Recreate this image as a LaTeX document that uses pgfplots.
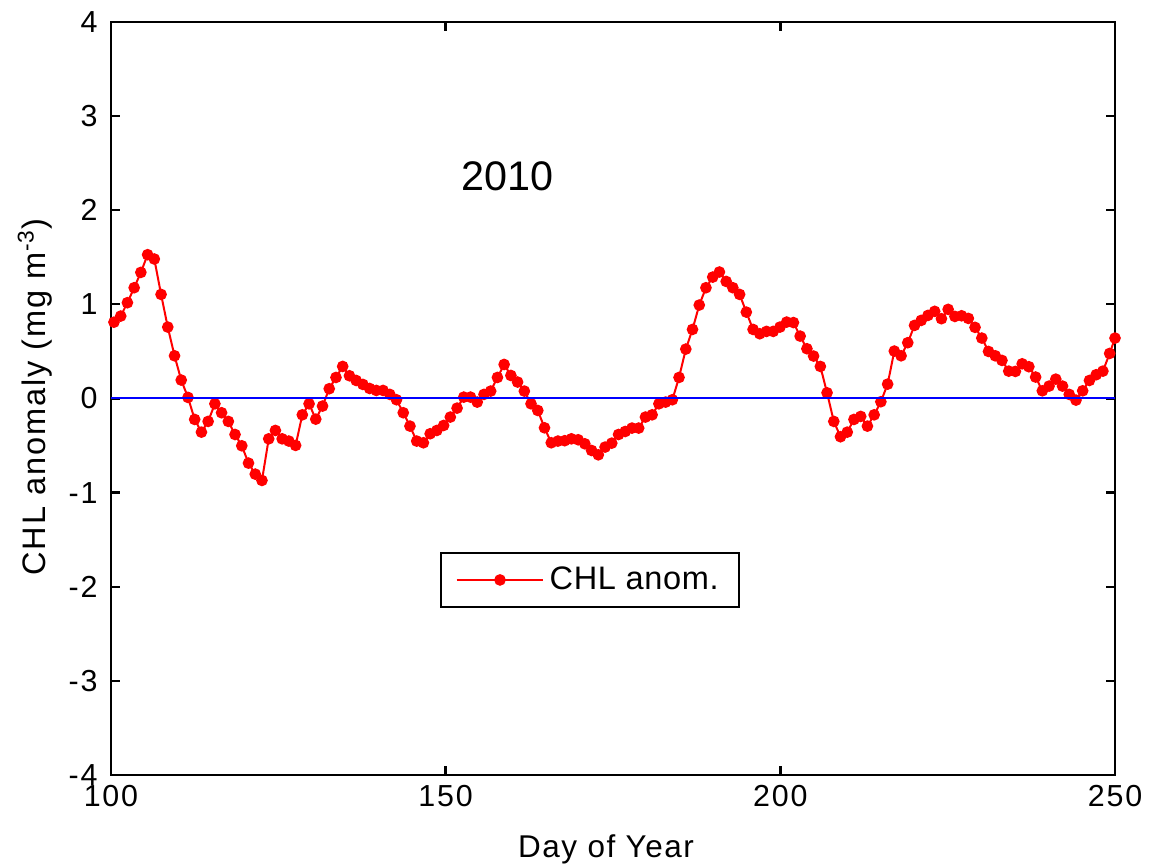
\documentclass[border=0pt]{standalone}
\usepackage{pgfplots}
\pgfplotsset{compat=1.18}
\usepackage{fontspec}
\setmainfont{Liberation Sans}
\newfontfamily\tickfont[LetterSpace=6]{Liberation Sans}
\newfontfamily\labfont[LetterSpace=5]{Liberation Sans}
\newfontfamily\ylabfont[LetterSpace=6]{Liberation Sans}
\newfontfamily\legfont[LetterSpace=2]{Liberation Sans}
\pgfplotstableread{
x y
100.45 0.810
101.46 0.875
102.46 1.017
103.47 1.176
104.47 1.339
105.48 1.527
106.48 1.481
107.49 1.105
108.49 0.758
109.50 0.453
110.50 0.195
111.51 0.011
112.51 -0.223
113.52 -0.358
114.52 -0.244
115.53 -0.057
116.53 -0.152
117.54 -0.244
118.54 -0.383
119.55 -0.503
120.55 -0.687
121.56 -0.804
122.56 -0.871
123.57 -0.429
124.57 -0.340
125.58 -0.429
126.58 -0.453
127.59 -0.499
128.59 -0.174
129.60 -0.057
130.60 -0.220
131.61 -0.081
132.61 0.103
133.62 0.223
134.62 0.340
135.63 0.241
136.63 0.191
137.64 0.149
138.64 0.106
139.65 0.085
140.65 0.085
141.66 0.043
142.66 -0.014
143.67 -0.152
144.67 -0.294
145.68 -0.453
146.68 -0.471
147.69 -0.375
148.69 -0.340
149.70 -0.287
150.70 -0.198
151.71 -0.103
152.71 0.014
153.72 0.014
154.72 -0.039
155.73 0.043
156.73 0.078
157.74 0.223
158.74 0.361
159.75 0.244
160.75 0.174
161.76 0.078
162.76 -0.057
163.77 -0.128
164.77 -0.312
165.78 -0.471
166.78 -0.453
167.79 -0.449
168.79 -0.429
169.80 -0.439
170.80 -0.482
171.81 -0.553
172.81 -0.599
173.82 -0.517
174.82 -0.475
175.83 -0.383
176.83 -0.351
177.84 -0.315
178.84 -0.315
179.85 -0.198
180.85 -0.174
181.86 -0.057
182.86 -0.039
183.87 -0.014
184.87 0.223
185.88 0.524
186.88 0.733
187.89 0.992
188.89 1.176
189.90 1.289
190.90 1.343
191.91 1.243
192.91 1.176
193.92 1.105
194.92 0.917
195.93 0.733
196.93 0.687
197.94 0.712
198.94 0.712
199.95 0.758
200.95 0.811
201.96 0.806
202.96 0.662
203.97 0.528
204.97 0.450
205.98 0.340
206.98 0.060
207.99 -0.244
208.99 -0.407
210.00 -0.358
211.00 -0.223
212.01 -0.191
213.01 -0.294
214.02 -0.174
215.02 -0.035
216.03 0.152
217.03 0.503
218.04 0.453
219.04 0.592
220.05 0.776
221.05 0.829
222.06 0.882
223.06 0.925
224.07 0.847
225.07 0.946
226.08 0.871
227.08 0.878
228.09 0.850
229.09 0.755
230.10 0.641
231.10 0.499
232.11 0.453
233.11 0.404
234.12 0.290
235.12 0.287
236.13 0.368
237.13 0.337
238.14 0.227
239.14 0.081
240.15 0.131
241.15 0.205
242.16 0.131
243.16 0.043
244.17 -0.018
245.17 0.081
246.18 0.191
247.19 0.252
248.19 0.290
249.20 0.478
250.00 0.641
}\chldata
\begin{document}
\begin{tikzpicture}
\path[use as bounding box] (-41.6pt,-34.1pt) rectangle (390.75pt,290.6pt);
\begin{axis}[
  scale only axis,
  width=376.5pt, height=282.4pt,
  xmin=100, xmax=250, ymin=-4, ymax=4,
  xtick={100,150,200,250},
  ytick={-4,-3,-2,-1,0,1,2,3,4},
  minor tick num=0,
  axis line style={line width=0.9pt},
  every tick/.style={black, line width=0.9pt},
  major tick length=3.5pt,
  tick align=inside,
  /pgf/number format/assume math mode=true,
  tick label style={font=\tickfont\fontsize{11.4}{13}\selectfont},
  yticklabel style={xshift=-1.5pt},
  xticklabel style={yshift=-0.5pt},
  xlabel={Day of Year},
  ylabel={CHL anomaly (mg m\textsuperscript{-3})},
  xlabel style={font=\labfont\fontsize{11.8}{13}\selectfont, at={(axis description cs:0.5,0)}, anchor=base, yshift=-30.75pt, xshift=-2.6pt},
  ylabel style={font=\ylabfont\fontsize{12.2}{14}\selectfont, at={(axis description cs:0,0.502)}, anchor=center, yshift=28.5pt},
  clip mode=individual,
  legend style={at={(rel axis cs:0.477,0.259)}, anchor=center,
    draw=black, line width=0.75pt, font=\legfont\fontsize{12.2}{14}\selectfont,
    inner xsep=5.6pt, inner ysep=3pt},
  legend image code/.code={\draw[mark repeat=2,mark phase=2] plot coordinates {(0pt,0pt) (16.25pt,0pt) (32.5pt,0pt)};},
]
\addplot[red, line width=0.75pt, forget plot] coordinates {(99.45,0.74) (100.45,0.81)};
\addplot[red, line width=0.75pt, mark=*, mark size=1.8pt, mark options={solid, fill=red, draw=red}] table[x=x,y=y] {\chldata};
\addlegendentry{CHL anom.}
\addplot[blue, line width=0.75pt, forget plot] coordinates {(100,0) (250,0)};
\node[font=\fontsize{15.5}{18}\selectfont] at (axis cs:159.2,2.36) {2010};
\end{axis}
\end{tikzpicture}
\end{document}
